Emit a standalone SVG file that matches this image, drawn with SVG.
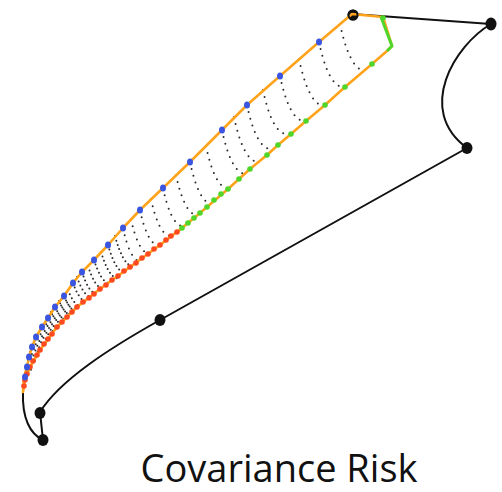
<svg xmlns="http://www.w3.org/2000/svg" width="502" height="492" viewBox="0 0 502 492">
<style>
.rung{fill:none;stroke:#2a2a2a;stroke-linecap:round;stroke-width:2}
.r1{stroke-dasharray:0 7}
.r2{stroke-dasharray:0 4.5}
.r3{stroke-dasharray:0 2.4}
.conn{fill:none;stroke:#111;stroke-width:2}
.node{fill:#111}
.band{fill:none;stroke:#ffa31a;stroke-width:2.6;stroke-linejoin:round}
.blue{fill:#3a55e0}
.red{fill:#ff4a1f}
.green{fill:#4fd62a}
.label{font-family:"Open Sans","Liberation Sans",sans-serif;font-size:38px;fill:#111}
</style>
<rect width="502" height="492" fill="#ffffff"/>
<g id="connectors">
<path class="conn" d="M352,14 L491,24 C455,45 415,110 467,148 L160,320 C110,348 60,380 40,412 L43,440 C30,434 22,418 23,392"/>
</g>
<g id="rungs" class="rung">
<path class="r1" d="M340,24 Q349.1,66.7 363.1,70.7"/>
<path class="r1" d="M319,42 Q327.7,83 341.1,86.8"/>
<path class="r1" d="M299,59 Q308.1,101.7 322.1,105.7"/>
<path class="r1" d="M280,76 Q288.7,117 302.1,120.8"/>
<path class="r1" d="M263,90 Q271.5,130.1 284.7,133.9"/>
<path class="r1" d="M247,105 Q255.5,145.1 268.7,148.9"/>
<path class="r1" d="M234,117 Q242.7,158 256.1,161.8"/>
<path class="r1" d="M222,130 Q230.5,170.1 243.7,173.9"/>
<path class="r1" d="M206,146 Q214.3,185.3 227.2,189"/>
<path class="r1" d="M190,162 Q198.2,200.4 210.7,204"/>
<path class="r1" d="M176,175 Q183.8,211.7 195.8,215.2"/>
<path class="r1" d="M163,188 Q170.4,223 181.9,226.3"/>
<path class="r1" d="M151,199 Q158.2,232.7 169.2,235.9"/>
<path class="r1" d="M140,210 Q146.9,242.4 157.5,245.5"/>
<path class="r1" d="M131,219 Q137.7,250.6 148.1,253.6"/>
<path class="r1" d="M123,228 Q129.5,258.7 139.6,261.6"/>
<path class="r2" d="M115,236 Q122.7,264.2 132.2,266.4"/>
<path class="r2" d="M108,245 Q115.5,271 124.3,272.9"/>
<path class="r2" d="M101,252 Q108.5,276.6 116.9,278.3"/>
<path class="r2" d="M94,260 Q100.9,281.6 108.4,283"/>
<path class="r2" d="M88,266 Q94.6,286.8 101.8,288.1"/>
<path class="r2" d="M82,272 Q88.4,292 95.2,293.2"/>
<path class="r2" d="M77,277 Q83.5,295.6 90,296.6"/>
<path class="r2" d="M73,283 Q79.3,300.3 85.4,301.1"/>
<path class="r2" d="M68,290 Q73.7,304.6 78.9,305.2"/>
<path class="r3" d="M64,296 Q69.8,309.7 74.8,310.2"/>
<path class="r3" d="M59,301 Q64.7,313.7 69.4,314.1"/>
<path class="r3" d="M55,307 Q60.6,318.9 64.9,319.1"/>
<path class="r3" d="M51,312 Q56.6,322.9 60.7,323"/>
<path class="r3" d="M48,318 Q53.6,328 57.4,327.9"/>
<path class="r3" d="M45,322 Q50.1,331.2 53.6,331.1"/>
<path class="r3" d="M42,327 Q47.1,335.1 50.3,334.9"/>
<path class="r3" d="M39,332 Q43.7,339.4 46.6,339.2"/>
<path class="r3" d="M36,337 Q41,343.7 43.8,343.3"/>
<path class="r3" d="M34,342 Q38.7,348.3 41.3,347.9"/>
<path class="r3" d="M32,347 Q36.5,352.4 38.7,351.9"/>
<path class="r3" d="M30,352 Q34.2,357 36.3,356.6"/>
<path class="r3" d="M29,357 Q33.3,361.4 35.2,360.9"/>
<path class="r3" d="M27,367 Q30,370.2 31.5,369.8"/>
</g>
<g id="node-top">
<circle class="node" cx="353" cy="15" r="5.5"/>
</g>
<path id="band" class="band" d="M23,392 L24,377 27,367 29,357 32,347 36,337 42,327 48,318 55,307 64,296 73,283 82,272 94,260 108,245 123,228 140,210 163,188 190,162 222,130 247,105 280,76 319,42 352,14 383,17 392,46 387,51 372,64 345,87 325,105 306,121 291,134 278,145 267,155 250,169 228,189 200,213 182,228 160,245 130,267 100,289 77,307 57,327 40,350 30,367 25,380 Z"/>
<path id="green-end" fill="none" stroke="#4fd62a" stroke-width="3" stroke-linejoin="round" d="M381,17 L392,46 L387,51"/>
<g id="red-dots" class="red">
<circle cx="24" cy="386" r="2.8"/><circle cx="25" cy="380" r="2.8"/><circle cx="27" cy="374" r="2.8"/><circle cx="30" cy="367" r="2.8"/><circle cx="33" cy="361" r="2.8"/><circle cx="37" cy="355" r="2.8"/><circle cx="40" cy="350" r="2.8"/><circle cx="44" cy="344" r="2.8"/><circle cx="48" cy="339" r="2.8"/><circle cx="52" cy="334" r="2.8"/><circle cx="57" cy="327" r="2.8"/><circle cx="62" cy="322" r="2.8"/><circle cx="67" cy="317" r="2.8"/><circle cx="72" cy="312" r="2.8"/><circle cx="77" cy="307" r="2.8"/><circle cx="83" cy="302" r="2.8"/><circle cx="89" cy="298" r="2.8"/><circle cx="94" cy="294" r="2.8"/><circle cx="100" cy="289" r="2.8"/><circle cx="106" cy="285" r="2.8"/><circle cx="112" cy="280" r="2.8"/><circle cx="118" cy="276" r="2.8"/><circle cx="124" cy="271" r="2.8"/><circle cx="130" cy="267" r="2.8"/><circle cx="136" cy="263" r="2.8"/><circle cx="142" cy="258" r="2.8"/><circle cx="148" cy="254" r="2.8"/><circle cx="154" cy="249" r="2.8"/><circle cx="160" cy="245" r="2.8"/><circle cx="166" cy="240" r="2.8"/><circle cx="171" cy="236" r="2.8"/><circle cx="177" cy="232" r="2.8"/>
</g>
<g id="green-dots" class="green">
<circle cx="182" cy="228" r="2.8"/><circle cx="188" cy="223" r="2.8"/><circle cx="194" cy="218" r="2.8"/><circle cx="200" cy="213" r="2.8"/><circle cx="207" cy="207" r="2.8"/><circle cx="214" cy="200" r="2.8"/><circle cx="221" cy="194" r="2.8"/><circle cx="228" cy="189" r="2.8"/><circle cx="239" cy="179" r="2.8"/><circle cx="250" cy="169" r="2.8"/><circle cx="267" cy="155" r="2.8"/><circle cx="278" cy="145" r="2.8"/><circle cx="291" cy="134" r="2.8"/><circle cx="306" cy="121" r="2.8"/><circle cx="325" cy="105" r="2.8"/><circle cx="345" cy="87" r="2.8"/><circle cx="372" cy="64" r="2.8"/><circle cx="383" cy="18" r="2.8"/>
</g>
<g id="blue-dots" class="blue">
<ellipse cx="319" cy="42" rx="3" ry="3.6"/><ellipse cx="280" cy="76" rx="3" ry="3.6"/><ellipse cx="247" cy="105" rx="3" ry="3.6"/><ellipse cx="222" cy="130" rx="3" ry="3.6"/><ellipse cx="190" cy="162" rx="3" ry="3.6"/><ellipse cx="163" cy="188" rx="3" ry="3.6"/><ellipse cx="140" cy="210" rx="3" ry="3.6"/><ellipse cx="123" cy="228" rx="3" ry="3.6"/><ellipse cx="108" cy="245" rx="3" ry="3.6"/><ellipse cx="94" cy="260" rx="3" ry="3.6"/><ellipse cx="82" cy="272" rx="3" ry="3.6"/><ellipse cx="73" cy="283" rx="3" ry="3.6"/><ellipse cx="64" cy="296" rx="3" ry="3.6"/><ellipse cx="55" cy="307" rx="3" ry="3.6"/><ellipse cx="48" cy="318" rx="3" ry="3.6"/><ellipse cx="42" cy="327" rx="3" ry="3.6"/><ellipse cx="36" cy="337" rx="3" ry="3.6"/><ellipse cx="32" cy="347" rx="3" ry="3.6"/><ellipse cx="29" cy="357" rx="3" ry="3.6"/><ellipse cx="27" cy="367" rx="3" ry="3.6"/><ellipse cx="25" cy="377" rx="3" ry="3.6"/>
</g>
<g id="node-top-ring">
<circle cx="353" cy="15" r="4.5" fill="none" stroke="#111" stroke-width="2"/>
</g>
<g id="node-right-top"><ellipse class="node" cx="491" cy="24" rx="5.5" ry="6.5"/></g>
<g id="node-right-mid"><ellipse class="node" cx="467" cy="148" rx="5.5" ry="6"/></g>
<g id="node-mid"><ellipse class="node" cx="160" cy="320" rx="5.5" ry="6"/></g>
<g id="node-low"><ellipse class="node" cx="40" cy="413" rx="5.5" ry="6"/></g>
<g id="node-bottom"><ellipse class="node" cx="43" cy="440" rx="5.5" ry="6"/></g>
<text class="label" x="279" y="482" text-anchor="middle">Covariance Risk</text>
</svg>
